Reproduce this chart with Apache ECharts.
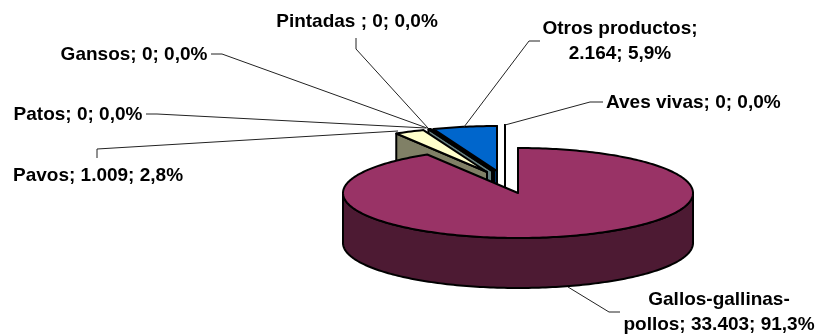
<!DOCTYPE html>
<html><head><meta charset="utf-8">
<style>html,body{margin:0;padding:0;background:#fff}#c{width:821px;height:335px}</style>
<script src="https://cdn.jsdelivr.net/npm/echarts@6/dist/echarts.min.js"></script>
</head><body><div id="c"></div>
<script>
const categories = ['Aves vivas','Gallos-gallinas-pollos','Pavos','Patos','Gansos','Pintadas ','Otros productos'];
const values = [0,33403,1009,0,0,0,2164];
const valueLabels = ['0','33.403','1.009','0','0','0','2.164'];
const percentLabels = ['0,0%','91,3%','2,8%','0,0%','0,0%','0,0%','5,9%'];
const topColors = ['#9999FF','#993366','#FFFFCC','#CCFFFF','#660066','#FF8080','#0066CC'];
const sideColors = ['#4D4D80','#4D1A33','#808066','#668080','#330033','#804040','#003366'];
const sliceShiftX = [-13,0,-31,-26,-25,-24,-21];
const sliceShiftY = [-23,0,-21,-22,-22,-22,-22];
const drawRank = [0,6,5,4,3,2,1];
const labelLines = [
  {text:'Aves vivas; 0; 0,0%',x:606,y:103,align:'left',line:[[603,102],[590,102],[505,125]]},
  {text:'Gallos-gallinas-\npollos; 33.403; 91,3%',x:719,y:312,align:'center',line:[[620,312],[609,312],[568,287]]},
  {text:'Pavos; 1.009; 2,8%',x:98,y:176,align:'center',line:[[97,158],[97,149],[398,131]]},
  {text:'Patos; 0; 0,0%',x:78,y:115,align:'center',line:[[146,114],[157,114],[426,128]]},
  {text:'Gansos; 0; 0,0%',x:134,y:55,align:'center',line:[[211,54],[222,54],[427,128]]},
  {text:'Pintadas ; 0; 0,0%',x:357,y:22,align:'center',line:[[356,38],[356,49],[428,128]]},
  {text:'Otros productos;\n2.164; 5,9%',x:620,y:41.5,align:'center',line:[[540,41],[529,41],[464,127]]}
];
const total = values.reduce((a,b)=>a+b,0);
const CX=518, CY=193, RX=175, RY=45, DEPTH=50;
const pt=(a,cx,cy)=>[cx+RX*Math.sin(a),cy-RY*Math.cos(a)];
function arc(a0,a1,cx,cy){const n=Math.max(2,Math.ceil((a1-a0)/0.02));const p=[];for(let i=0;i<=n;i++){p.push(pt(a0+(a1-a0)*i/n,cx,cy));}return p;}
function renderItem(params,api){
  const i=params.dataIndex;
  let sum=0;for(let k=0;k<i;k++)sum+=values[k];
  const a0=sum/total*2*Math.PI, a1=(sum+values[i])/total*2*Math.PI;
  const cx=CX+sliceShiftX[i], cy=CY+sliceShiftY[i];
  const st={stroke:'#000',lineWidth:2,lineJoin:'round'};
  const base=drawRank[i]*10;
  const kids=[];
  const poly=(pts,fill,z)=>kids.push({type:'polygon',z2:base+z,shape:{points:pts},style:{...st,fill}});
  const start=pt(a0,cx,cy), end=pt(a1,cx,cy), ctr=[cx,cy];
  const down=p=>[p[0],p[1]+DEPTH];
  // cut faces turned toward the viewer, or seen edge-on
  if(Math.sin(a0)<1e-6) poly([ctr,start,down(start),down(ctr)],sideColors[i],1);
  if(Math.sin(a1)>-1e-6) poly([ctr,end,down(end),down(ctr)],sideColors[i],1);
  // outer wall: only the part of the rim facing the viewer
  const w0=Math.max(a0,Math.PI/2), w1=Math.min(a1,Math.PI*1.5);
  if(w1>w0){const r=arc(w0,w1,cx,cy);poly(r.concat(r.slice().reverse().map(down)),sideColors[i],2);}
  // top
  poly([ctr].concat(arc(a0,a1,cx,cy)),topColors[i],3);
  return {type:'group',children:kids};
}
function renderLabel(params){
  const d=labelLines[params.dataIndex];
  return {type:'group',children:[
    {type:'polyline',z2:100,shape:{points:d.line},style:{stroke:'#222',lineWidth:1,fill:null}},
    {type:'text',z2:101,style:{text:d.text,x:d.x,y:d.y,align:d.align,verticalAlign:'middle',
      font:'bold 19px "Liberation Sans", Arial, sans-serif',lineHeight:25,fill:'#000'}}
  ]};
}
const chart=echarts.init(document.getElementById('c'),null,{renderer:'canvas'});
chart.setOption({
  animation:false,
  series:[
    {type:'custom',coordinateSystem:'none',renderItem,silent:true,
     data:categories.map((c,i)=>({name:c,value:values[i]}))},
    {type:'custom',coordinateSystem:'none',renderItem:renderLabel,silent:true,
     data:categories.map((c,i)=>({name:c,value:[values[i],valueLabels[i],percentLabels[i]]}))}
  ]
});
</script></body></html>
